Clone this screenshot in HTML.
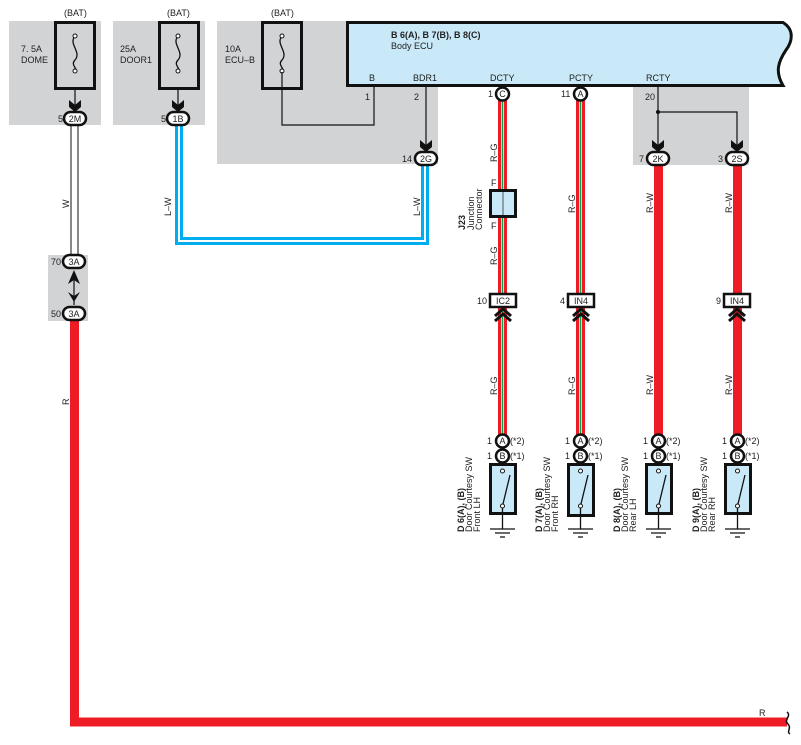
<!DOCTYPE html>
<html><head><meta charset="utf-8"><style>
html,body{margin:0;padding:0;background:#fff}
svg{display:block}
text{font-family:"Liberation Sans",sans-serif;font-size:9px;fill:#222}
</style></head><body>
<svg width="801" height="745" viewBox="0 0 801 745" xmlns="http://www.w3.org/2000/svg">
<defs>
<g id="arr"><path d="M-6,-11 L0,-6 L6,-11 L6,-4 L0,1 L-6,-4 Z" fill="#111"/></g>
<g id="chev"><path d="M-8,9 L0,2 L8,9" fill="none" stroke="#111" stroke-width="3"/><path d="M-8,14 L0,7 L8,14" fill="none" stroke="#111" stroke-width="3"/></g>
</defs>
<rect x="9" y="21" width="92" height="104" fill="#d2d3d5"/>
<rect x="113" y="21" width="92" height="104" fill="#d2d3d5"/>
<rect x="217" y="21" width="221" height="143" fill="#d2d3d5"/>
<rect x="633" y="87" width="116" height="78" fill="#d2d3d5"/>
<rect x="48" y="255" width="40" height="66" fill="#d2d3d5"/>

<g fill="none" stroke="#111">
<rect x="55.5" y="22.5" width="39" height="66" stroke-width="3"/>
<rect x="159.5" y="22.5" width="39" height="66" stroke-width="3"/>
<rect x="262.5" y="22.5" width="39" height="66" stroke-width="3"/>
<g stroke-width="1.3">
<path d="M75,36 C68,44 82,52 75,60 C70,65 78,68 75,71"/>
<path d="M178,36 C171,44 185,52 178,60 C173,65 181,68 178,71"/>
<path d="M282,36 C275,44 289,52 282,60 C277,65 285,68 282,71"/>
</g>
</g>
<g fill="#fff" stroke="#111" stroke-width="1">
<circle cx="75" cy="36" r="2"/><circle cx="75" cy="71" r="2"/>
<circle cx="178" cy="36" r="2"/><circle cx="178" cy="71" r="2"/>
<circle cx="282" cy="36" r="2"/><circle cx="282" cy="71" r="2"/>
</g>
<text x="64" y="16">(BAT)</text><text x="167" y="16">(BAT)</text><text x="271" y="16">(BAT)</text>
<text x="21" y="52">7. 5A</text><text x="21" y="63">DOME</text>
<text x="120" y="52">25A</text><text x="120" y="63">DOOR1</text>
<text x="225" y="52">10A</text><text x="225" y="63">ECU–B</text>

<path d="M347.5,22.5 L783,22.5 C795,30 792,42 786,50 C778,62 775,72 783,85.5 L347.5,85.5 Z" fill="#c9e8f8" stroke="#111" stroke-width="3"/>
<text x="391" y="38" font-weight="bold">B 6(A), B 7(B), B 8(C)</text>
<text x="391" y="49">Body ECU</text>
<text x="369" y="81">B</text><text x="413" y="81">BDR1</text>
<text x="490" y="81">DCTY</text><text x="569" y="81">PCTY</text><text x="646" y="81">RCTY</text>

<g stroke="#111" stroke-width="1.2" fill="none">
<path d="M75,89 V110"/><path d="M178,89 V110"/>
<path d="M282,72 V125 H374 V87"/>
<path d="M426,87 V150"/>
<path d="M658,87 V150"/><path d="M658,112 H737 V150"/>
<path d="M74,275 V305"/>
</g>
<circle cx="658" cy="112" r="2" fill="#111"/>
<text x="365" y="100">1</text><text x="414" y="100">2</text><text x="645" y="100">20</text>

<path d="M71,124 V256 M78,124 V256" stroke="#111" stroke-width="1"/>
<text transform="translate(69,208) rotate(-90)">W</text>
<path d="M74.5,320 V722 H787" stroke="#ee1c25" stroke-width="9" fill="none"/>
<path d="M787,712 C792,716 783,720 788,724 C792,728 786,732 790,734" stroke="#111" stroke-width="1.5" fill="none"/>
<text transform="translate(69,405) rotate(-90)">R</text>
<text x="759" y="716">R</text>

<path d="M176.5,124 V243.5 H427.5 V164" stroke="#00aeef" stroke-width="3" fill="none"/>
<path d="M181.5,124 V238.5 H422.5 V164" stroke="#00aeef" stroke-width="3" fill="none"/>
<text transform="translate(171,216) rotate(-90)">L–W</text>
<text transform="translate(420,216) rotate(-90)">L–W</text>

<g fill="none">
<path d="M502.5,100 V440" stroke="#ee1c25" stroke-width="9"/>
<path d="M502.5,100 V440" stroke="#fff" stroke-width="3"/>
<path d="M502.5,100 V440" stroke="#00a651" stroke-width="1.6"/>
<path d="M580.5,100 V440" stroke="#ee1c25" stroke-width="9"/>
<path d="M580.5,100 V440" stroke="#fff" stroke-width="3"/>
<path d="M580.5,100 V440" stroke="#00a651" stroke-width="1.6"/>
<path d="M658.5,164 V440 M737.5,164 V440" stroke="#ee1c25" stroke-width="9"/>
</g>
<g font-size="9">
<text transform="translate(497,162) rotate(-90)">R–G</text>
<text transform="translate(497,265) rotate(-90)">R–G</text>
<text transform="translate(497,395) rotate(-90)">R–G</text>
<text transform="translate(575,213) rotate(-90)">R–G</text>
<text transform="translate(575,395) rotate(-90)">R–G</text>
<text transform="translate(653,213) rotate(-90)">R–W</text>
<text transform="translate(653,395) rotate(-90)">R–W</text>
<text transform="translate(732,213) rotate(-90)">R–W</text>
<text transform="translate(732,395) rotate(-90)">R–W</text>
</g>
<rect x="490.5" y="190.5" width="25" height="26" fill="#c9e8f8" stroke="#111" stroke-width="3"/>
<path d="M503,192 V215" stroke="#555" stroke-width="1"/>
<text x="491" y="186">F</text><text x="491" y="229">F</text>
<text transform="translate(465,230) rotate(-90)" font-weight="bold">J23</text>
<text transform="translate(474,230) rotate(-90)">Junction</text>
<text transform="translate(482,230) rotate(-90)">Connector</text>

<use href="#arr" x="75" y="111"/><use href="#arr" x="178" y="111"/>
<use href="#arr" x="426" y="151"/><use href="#arr" x="658" y="151"/><use href="#arr" x="737" y="151"/>
<path d="M68,284 L74,270 L80,284 L74,280 Z M68,292 L74,302 L80,292 L74,296 Z" fill="#111"/>

<g fill="#fff" stroke="#111" stroke-width="2.5">
<rect x="64" y="112" width="22" height="13" rx="6.5"/>
<rect x="167" y="112" width="22" height="13" rx="6.5"/>
<rect x="415" y="152" width="22" height="13" rx="6.5"/>
<rect x="647" y="152" width="22" height="13" rx="6.5"/>
<rect x="726" y="152" width="22" height="13" rx="6.5"/>
<rect x="63" y="255" width="22" height="13" rx="6.5"/>
<rect x="63" y="307" width="22" height="13" rx="6.5"/>
<circle cx="502.5" cy="94" r="6.5"/><circle cx="580.5" cy="94" r="6.5"/>
</g>
<g font-size="9" text-anchor="middle">
<text x="75" y="122">2M</text><text x="178" y="122">1B</text><text x="426" y="162">2G</text>
<text x="658" y="162">2K</text><text x="737" y="162">2S</text>
<text x="74" y="265">3A</text><text x="74" y="317">3A</text>
<text x="502.5" y="97">C</text><text x="580.5" y="97">A</text>
</g>
<text x="58" y="122">5</text><text x="161" y="122">5</text><text x="402" y="162">14</text>
<text x="639" y="162">7</text><text x="718" y="162">3</text>
<text x="51" y="265">70</text><text x="51" y="317">50</text>
<text x="488" y="97">1</text><text x="561" y="97">11</text>

<g fill="#fff" stroke="#111" stroke-width="2.5">
<rect x="490" y="294" width="26" height="13"/>
<rect x="568" y="294" width="26" height="13"/>
<rect x="724" y="294" width="26" height="13"/>
</g>
<g text-anchor="middle"><text x="503" y="304">IC2</text><text x="581" y="304">IN4</text><text x="737" y="304">IN4</text></g>
<text x="477" y="304">10</text><text x="560" y="304">4</text><text x="716" y="304">9</text>
<use href="#chev" x="503" y="307"/><use href="#chev" x="581" y="307"/><use href="#chev" x="737" y="307"/>

<g fill="#fff" stroke="#111" stroke-width="2.5">
<circle cx="502.5" cy="441" r="6.5"/><circle cx="502.5" cy="456" r="6.5"/>
<circle cx="580.5" cy="441" r="6.5"/><circle cx="580.5" cy="456" r="6.5"/>
<circle cx="658.5" cy="441" r="6.5"/><circle cx="658.5" cy="456" r="6.5"/>
<circle cx="737.5" cy="441" r="6.5"/><circle cx="737.5" cy="456" r="6.5"/>
</g>
<g text-anchor="middle">
<text x="502.5" y="444">A</text><text x="502.5" y="459">B</text>
<text x="580.5" y="444">A</text><text x="580.5" y="459">B</text>
<text x="658.5" y="444">A</text><text x="658.5" y="459">B</text>
<text x="737.5" y="444">A</text><text x="737.5" y="459">B</text>
</g>
<g>
<text x="487" y="444">1</text><text x="487" y="459">1</text><text x="510" y="444">(*2)</text><text x="510" y="459">(*1)</text>
<text x="565" y="444">1</text><text x="565" y="459">1</text><text x="588" y="444">(*2)</text><text x="588" y="459">(*1)</text>
<text x="643" y="444">1</text><text x="643" y="459">1</text><text x="666" y="444">(*2)</text><text x="666" y="459">(*1)</text>
<text x="722" y="444">1</text><text x="722" y="459">1</text><text x="745" y="444">(*2)</text><text x="745" y="459">(*1)</text>
</g>
<g fill="#c9e8f8" stroke="#111" stroke-width="3">
<rect x="490.5" y="464.5" width="25" height="49"/>
<rect x="568.5" y="464.5" width="25" height="51"/>
<rect x="646.5" y="464.5" width="25" height="49"/>
<rect x="725.5" y="464.5" width="25" height="49"/>
</g>
<g stroke="#111" stroke-width="1.3" fill="none">
<path d="M502.5,506 L510,475 M502.5,506 V529 M490,529 H515 M495,533 H510 M500,537 H505"/>
<path d="M580.5,506 L588,475 M580.5,506 V529 M568,529 H593 M573,533 H588 M578,537 H583"/>
<path d="M658.5,506 L666,475 M658.5,506 V529 M646,529 H671 M651,533 H666 M656,537 H661"/>
<path d="M737.5,506 L745,475 M737.5,506 V529 M725,529 H750 M730,533 H745 M735,537 H740"/>
</g>
<g fill="#fff" stroke="#111" stroke-width="1">
<circle cx="502.5" cy="471" r="2"/><circle cx="502.5" cy="506" r="2"/>
<circle cx="580.5" cy="471" r="2"/><circle cx="580.5" cy="506" r="2"/>
<circle cx="658.5" cy="471" r="2"/><circle cx="658.5" cy="506" r="2"/>
<circle cx="737.5" cy="471" r="2"/><circle cx="737.5" cy="506" r="2"/>
</g>
<g>
<text transform="translate(464,532) rotate(-90)" font-weight="bold">D 6(A), (B)</text>
<text transform="translate(472,532) rotate(-90)">Door Courtesy SW</text>
<text transform="translate(480,532) rotate(-90)">Front LH</text>
<text transform="translate(542,532) rotate(-90)" font-weight="bold">D 7(A), (B)</text>
<text transform="translate(550,532) rotate(-90)">Door Courtesy SW</text>
<text transform="translate(558,532) rotate(-90)">Front RH</text>
<text transform="translate(620,532) rotate(-90)" font-weight="bold">D 8(A), (B)</text>
<text transform="translate(628,532) rotate(-90)">Door Courtesy SW</text>
<text transform="translate(636,532) rotate(-90)">Rear LH</text>
<text transform="translate(699,532) rotate(-90)" font-weight="bold">D 9(A), (B)</text>
<text transform="translate(707,532) rotate(-90)">Door Courtesy SW</text>
<text transform="translate(715,532) rotate(-90)">Rear RH</text>
</g>
</svg>
</body></html>
